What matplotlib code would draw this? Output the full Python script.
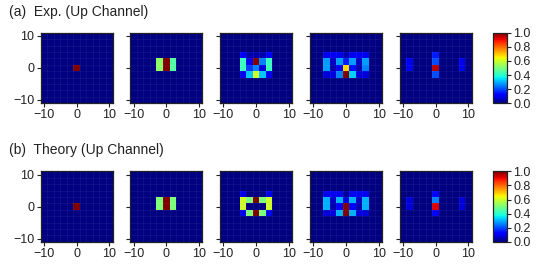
import numpy as np
import matplotlib
matplotlib.use("Agg")
import matplotlib.pyplot as plt

plt.rcParams['font.family'] = ['Liberation Sans', 'DejaVu Sans']

# ---------------- data ----------------
centres = list(range(-10, 11, 2))          # lattice sites (cell centres)
tick_vals = [-10, 0, 10]
cbar_ticks = [0.0, 0.2, 0.4, 0.6, 0.8, 1.0]
row_titles = ["(a)  Exp. (Up Channel)", "(b)  Theory (Up Channel)"]

# non-zero cells as (x, y, probability)
exp_1 = [(0, 0, 1.0)]
exp_2 = [(-2, 2, 0.52), (0, 2, 1.0), (2, 2, 0.45),
         (-2, 0, 0.52), (0, 0, 1.0), (2, 0, 0.45)]
exp_3 = [(-4, 4, 0.12), (-2, 4, 0.04), (0, 4, 0.04), (2, 4, 0.04), (4, 4, 0.12),
         (-4, 2, 0.42), (-2, 2, 0.10), (0, 2, 1.0), (2, 2, 0.25), (4, 2, 0.42),
         (-4, 0, 0.42), (-2, 0, 0.18), (0, 0, 0.25), (2, 0, 0.08), (4, 0, 0.42),
         (-4, -2, 0.10), (-2, -2, 0.32), (0, -2, 0.60), (2, -2, 0.32), (4, -2, 0.10)]
exp_4 = [(-6, 4, 0.10), (-4, 4, 0.10), (-2, 4, 0.10), (0, 4, 0.04), (2, 4, 0.10), (4, 4, 0.10), (6, 4, 0.10),
         (-6, 2, 0.28), (-4, 2, 0.06), (-2, 2, 0.28), (0, 2, 0.15), (2, 2, 0.28), (4, 2, 0.06), (6, 2, 0.28),
         (-6, 0, 0.28), (-4, 0, 0.04), (-2, 0, 0.10), (0, 0, 0.68), (2, 0, 0.14), (4, 0, 0.04), (6, 0, 0.25),
         (-6, -2, 0.08), (-4, -2, 0.08), (-2, -2, 0.25), (0, -2, 1.0), (2, -2, 0.33), (4, -2, 0.08), (6, -2, 0.08)]
exp_5 = [(0, 4, 0.15), (0, 2, 0.20), (0, 0, 0.95), (0, -2, 0.20),
         (-8, 2, 0.10), (-8, 0, 0.10), (8, 2, 0.10), (8, 0, 0.10)]

th_1 = [(0, 0, 1.0)]
th_2 = [(-2, 2, 0.50), (0, 2, 1.0), (2, 2, 0.50),
        (-2, 0, 0.50), (0, 0, 1.0), (2, 0, 0.50)]
th_3 = [(-4, 4, 0.10), (4, 4, 0.10),
        (-4, 2, 0.60), (-2, 2, 0.50), (0, 2, 1.0), (2, 2, 0.50), (4, 2, 0.60),
        (-4, 0, 0.60), (4, 0, 0.60),
        (-4, -2, 0.10), (-2, -2, 0.50), (0, -2, 1.0), (2, -2, 0.50), (4, -2, 0.10)]
th_4 = [(-6, 4, 0.10), (-4, 4, 0.10), (-2, 4, 0.10), (0, 4, 0.02), (2, 4, 0.10), (4, 4, 0.10), (6, 4, 0.10),
        (-6, 2, 0.30), (-4, 2, 0.06), (-2, 2, 0.30), (0, 2, 0.08), (2, 2, 0.30), (4, 2, 0.06), (6, 2, 0.30),
        (-6, 0, 0.30), (-4, 0, 0.04), (-2, 0, 0.12), (0, 0, 1.0), (2, 0, 0.12), (4, 0, 0.04), (6, 0, 0.30),
        (-6, -2, 0.08), (-4, -2, 0.08), (-2, -2, 0.30), (0, -2, 1.0), (2, -2, 0.30), (4, -2, 0.08), (6, -2, 0.08)]
th_5 = [(0, 4, 0.12), (0, 2, 0.25), (0, 0, 0.92), (0, -2, 0.12),
        (-8, 2, 0.08), (-8, 0, 0.08), (8, 2, 0.08), (8, 0, 0.08)]

rows = [[exp_1, exp_2, exp_3, exp_4, exp_5],
        [th_1, th_2, th_3, th_4, th_5]]


def to_grid(cells):
    g = np.zeros((len(centres), len(centres)))
    for x, y, v in cells:
        g[centres.index(y), centres.index(x)] = v
    return g


# ---------------- layout ----------------
W, H = 554, 278
fig = plt.figure(figsize=(W / 100, H / 100), dpi=100)

edges = np.arange(-11, 12, 2)
ax_lefts = [40.5, 130.3, 220.1, 309.9, 399.7]
ax_w = 72
row_tops = [32.7, 171.3]
ax_h = 70.5
title_y = [12, 150]
tick_col = '#222222'

for r, panels in enumerate(rows):
    top = row_tops[r]
    mesh = None
    for c, cells in enumerate(panels):
        ax = fig.add_axes([ax_lefts[c] / W, 1 - (top + ax_h) / H, ax_w / W, ax_h / H])
        mesh = ax.pcolormesh(edges, edges, to_grid(cells), cmap='jet',
                             vmin=0, vmax=1, shading='flat')
        # faint grid between lattice cells
        for e in edges[1:-1]:
            ax.axvline(e, color='white', alpha=0.06, lw=0.6)
            ax.axhline(e, color='white', alpha=0.06, lw=0.6)
        ax.set_xlim(-11, 11)
        ax.set_ylim(-11, 11)
        ax.set_xticks(tick_vals)
        ax.set_yticks(tick_vals)
        ax.tick_params(labelsize=9, length=3, width=0.8, pad=1.5, color=tick_col,
                       labelcolor=tick_col)
        if c > 0:
            ax.set_yticklabels([])
        for s in ax.spines.values():
            s.set_linewidth(0.9)
            s.set_color(tick_col)
    cax = fig.add_axes([492.7 / W, 1 - (top + ax_h) / H, 14.6 / W, ax_h / H])
    cb = fig.colorbar(mesh, cax=cax, ticks=cbar_ticks, format='%.1f')
    cb.ax.tick_params(labelsize=9, length=3, width=0.8, pad=1.5, color=tick_col,
                      labelcolor=tick_col)
    cb.outline.set_linewidth(0.9)
    cb.outline.set_edgecolor(tick_col)
    fig.text(9 / W, 1 - title_y[r] / H, row_titles[r], fontsize=10,
             ha='left', va='center', color=tick_col)

fig.savefig('out.png', dpi=100)
